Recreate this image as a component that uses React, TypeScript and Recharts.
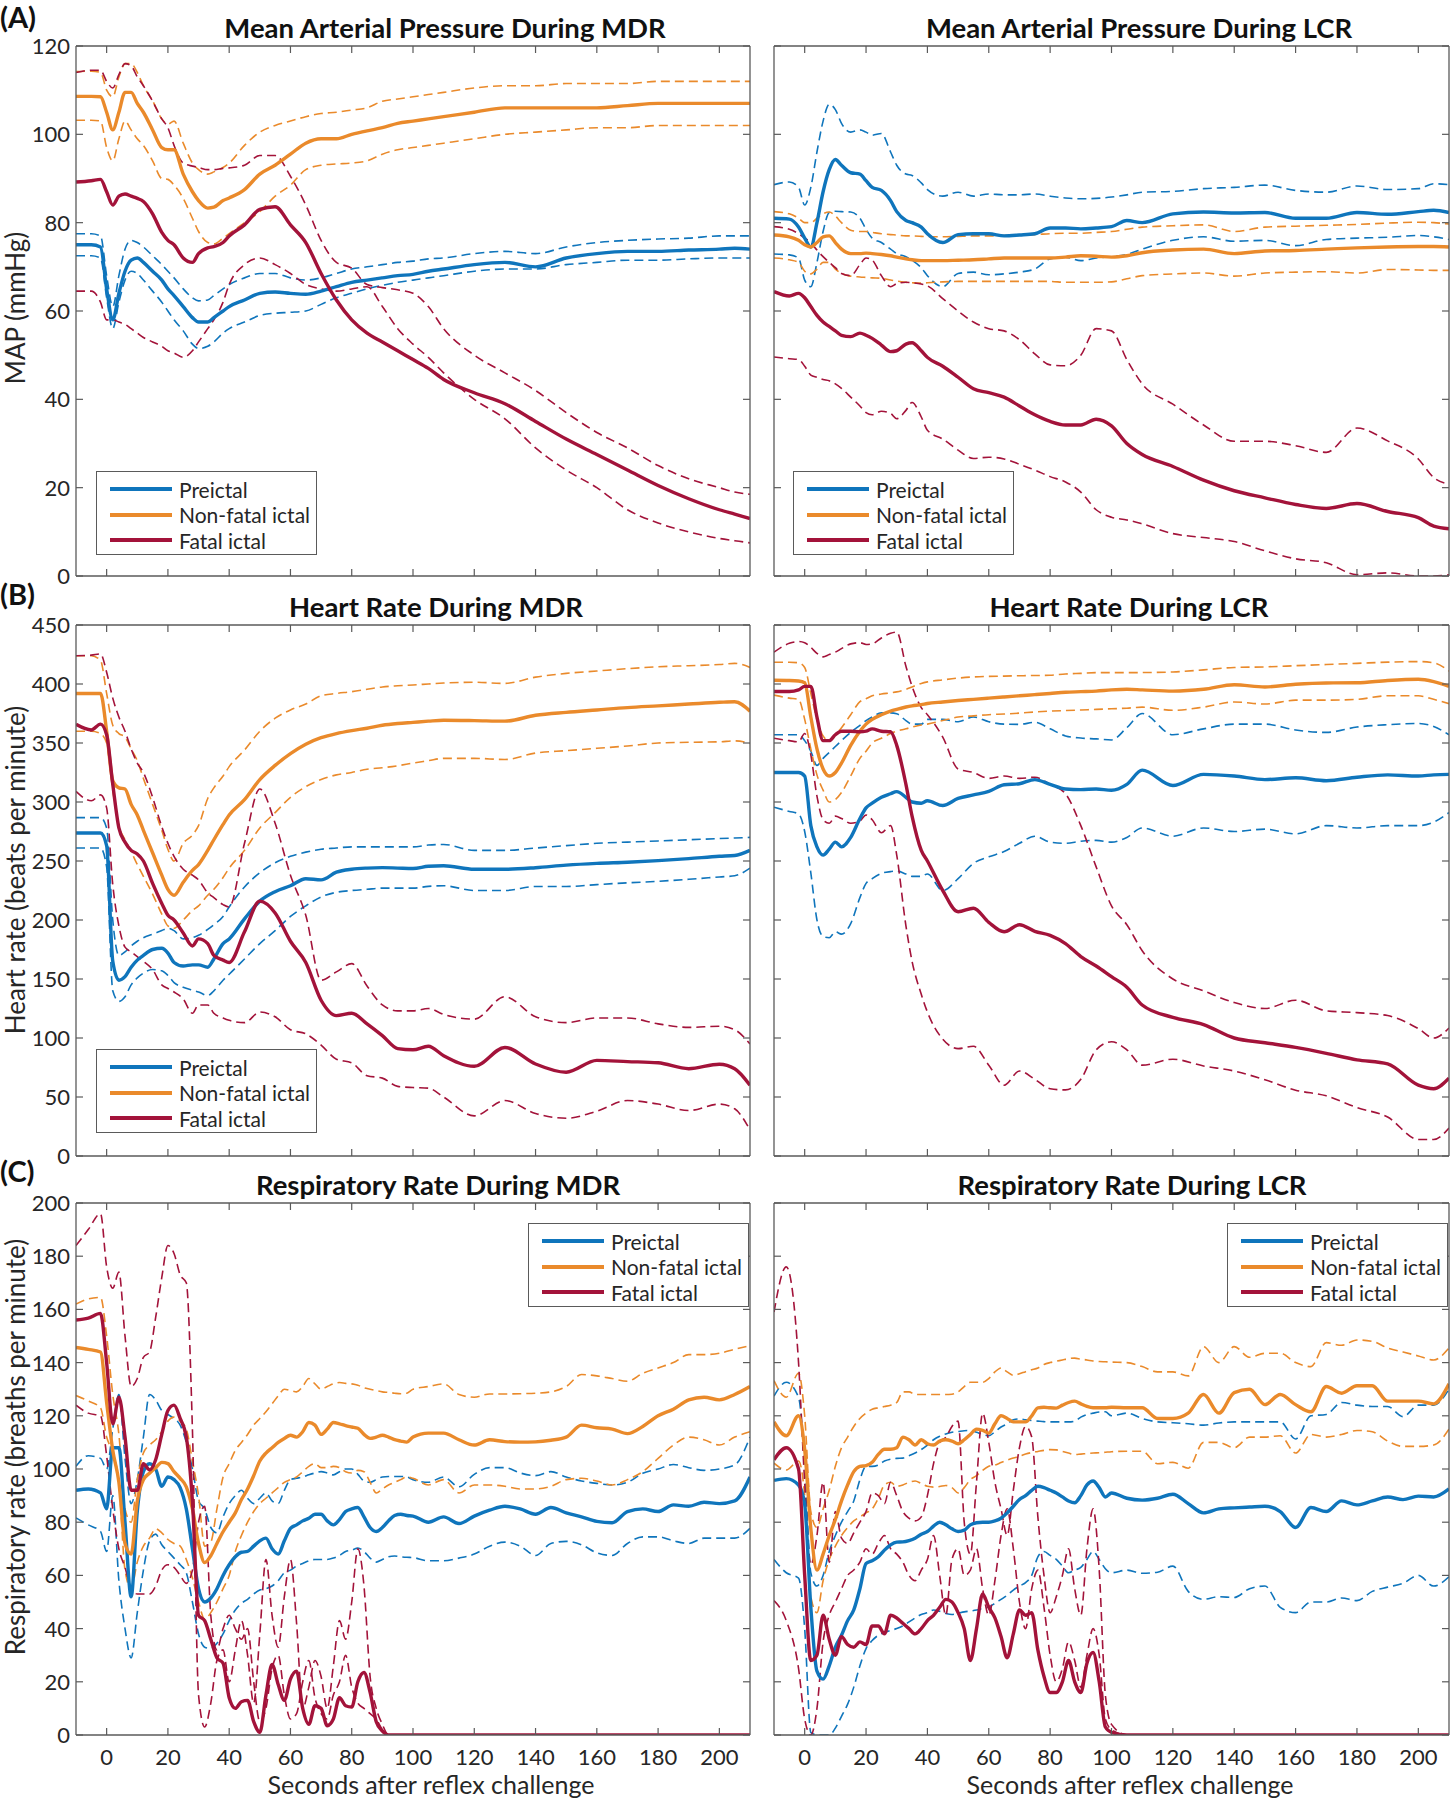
import { LineChart, Line, XAxis, YAxis } from "recharts";

// time bases (seconds after reflex challenge)
const tRows = [-10,-5,-2,0,2,4,6,8,10,12,15,18,20,22,25,28,30,33,35,38,40,45,50,55,60,65,70,75,80,85,90,95,100,105,110,120,130,140,150,160,170,180,190,200,205,210];
const tResp = [-10,-6,-2,0,2,4,6,8,10,12,14,16,18,20,22,24,26,28,30,32,34,36,38,40,42,44,46,48,50,52,54,56,58,60,62,64,66,68,70,72,74,76,78,80,82,84,86,88,90,92,94,96,98,100,105,110,115,120,125,130,135,140,145,150,155,160,165,170,175,180,185,190,195,200,205,210];

const xTicks = [0,20,40,60,80,100,120,140,160,180,200];
const mapTicks = [0,20,40,60,80,100,120];
const hrTicks = [0,50,100,150,200,250,300,350,400,450];
const rrTicks = [0,20,40,60,80,100,120,140,160,180,200];

const groupNames = ["Preictal", "Non-fatal ictal", "Fatal ictal"];
const groupColors = ["#0F75BC", "#EA8A2B", "#A3133A"];

// (A) MAP during MDR
const mapMdrPre = [75,75,74.5,65,58,64,69,71.5,72,71,69,67,65,63.5,61,58.5,57.5,57.5,58.5,60,61,62.5,64,64.3,64,63.8,64.5,65.5,66.5,67,67.5,68,68.3,69,69.5,70.5,71,70,72,73,73.5,73.5,73.8,74,74.2,74];
const mapMdrPreHi = [77.5,77.5,77,68,61,68,74,76,75.5,74.5,72.5,70.5,69,67.5,65,63,62.3,62.5,63.5,65,66,67.5,68.5,68.5,67.5,67,67.5,68.5,69.5,70,70.5,71,71.3,71.8,72,73,73.5,73,74.5,75.5,76,76.3,76.5,77,77,77];
const mapMdrPreLo = [72.5,72.5,72,63,56,62,67,69,68.5,67,64.5,62,60,58,55.5,52.5,51.5,52,53,55,56,57.5,59,59.5,59.7,60,61.5,63,64,65,65.8,66.5,67,67.5,68,69,69.5,69.5,70.5,71,71.5,71.5,71.8,72,72,72];
const mapMdrNon = [108.6,108.6,108.5,105,101,105,109.5,109.5,107,105,101,97,96.5,96.5,91,87,85,83.3,83.5,85,85.6,87.5,91,93,95.5,98,99,99,100,100.8,101.5,102.5,103,103.5,104,105,106,106,106,106,106.5,107,107,107,107,107];
const mapMdrNonHi = [114.2,114.3,114,110,108.5,113,116,116,114,111,107.6,103.5,102.3,103,98,93.5,92,91,91.5,92.5,93.5,97.5,100.5,102,103,104,104.7,105,105.5,106,107.5,108,108.5,109,109.5,110.5,111,111,111.5,111.5,111.5,112,112,112,112,112];
const mapMdrNonLo = [103.2,103.2,103,97,94,99,103,101,99,97.5,94,90,89.8,88.5,85.5,81,78,75.5,75.2,76.5,77.5,80,82.5,86,88.5,92,93,93.3,93.5,94,95.5,96.5,97,97.5,98,99,100,100.5,101,101.5,101.5,102,102,102,102,102];
const mapMdrFatal = [89.2,89.5,89.8,87,84,86,86.5,86,85.5,84.8,82,77.8,76,75,72,71,73,74.3,74.6,75.5,77,79.5,83,83.6,79.5,75.5,68.5,62.5,58,55,53,51,49,47,44.5,41.5,39,35,31,27.5,24,20.5,17.5,15,14,13];
const mapMdrFatalHi = [114,114.5,114.5,112,110.5,113.5,116,115.5,113,111,107.5,103.5,101.5,97.5,93.5,92.8,92.5,92,92,92.3,92.4,93,95.2,95.2,90.5,84,76,71,69.7,66,65.3,64.8,64,61,56,50,46,42,37,32.5,29,25,22,20,19,18.5];
const mapMdrFatalLo = [64.5,64.5,62,58,58,57.5,57,56,55,54,53,52,51,50.5,49.5,51,53,56,58,62,66,70.5,72,70.5,68.5,66,65,64.5,65,65.5,61,56,52.5,49.5,46,40,35.6,29,24,20,15,12,10,8.5,8,7.5];

// (A) MAP during LCR
const mapLcrPre = [81,80.8,79,76.5,74.5,80,87,92,94.3,93,91.3,91,89.5,88,87.3,85,82.5,80.5,80,79,77.5,75.5,77.3,77.5,77.5,77,77.2,77.5,78.8,78.8,78.6,78.8,79.1,80.5,80,82,82.4,82.2,82.3,81,81,82.3,81.9,82.5,82.8,82.3];
const mapLcrPreHi = [88.6,89.2,88,84,88,96,103,106.8,105.6,102.5,100.5,101,100.5,99.8,100.2,96,93,91,90.7,89,87.5,86,86.9,86,86.5,86.3,86.3,86.5,86,85.6,85.4,85.5,85.8,86.3,86.9,87.1,87.7,88,88.5,87.3,86.9,88.3,87.5,87.7,88.8,88.6];
const mapLcrPreLo = [72.9,72.7,72,67,65.5,71,78,82.3,82.6,82.5,82.4,81,78.5,76.5,75.5,74,73,72.3,71.5,69.8,68,65.5,68.5,68.8,68.2,68.4,68.8,69.5,71.8,72.2,71.4,72,72.3,72.8,74,76,76.8,75.8,76,74.8,76.2,76.5,76.7,77.1,76.8,76.2];
const mapLcrNon = [77.2,76.8,76,75,74.5,75.5,76.8,77,75.5,74,73,73,73.1,73,72.8,72.5,72.2,71.8,71.6,71.4,71.4,71.4,71.5,71.6,71.8,72,72,72,72,72.2,72.5,72.4,72.2,72.5,73.2,73.8,74,73,73.6,73.7,74,74.3,74.5,74.6,74.6,74.5];
const mapLcrNonHi = [82.5,82,81,80,80,81,82,82.4,81.5,80,78.3,78,78,77.8,77.5,77.3,77.2,77,77,76.9,76.8,76.8,76.9,77,77,77.1,77.2,77.3,77.5,77.6,77.6,77.8,78,78.5,79,79.3,79.5,78,79,79.2,79.4,79.6,79.9,80.1,80,79.7];
const mapLcrNonLo = [72,71.6,71,69,68.4,69.5,71,71,69.5,68.5,67.9,67.7,67.6,67.5,67.4,67,66.8,66.5,66.4,66.3,66.4,66.6,66.7,66.7,66.7,66.7,66.7,66.7,66.7,66.5,66.5,66.5,66.6,67.3,68,68.4,68.6,67.9,68.6,68.8,68.9,68.6,69.4,69.3,69.2,69.2];
const mapLcrFatal = [64.4,63.4,64,63,61,59,57.5,56.5,55.5,54.5,54.2,55,54.5,53.8,52.3,50.8,51,52.5,52.8,51,49.5,47.5,45,42.4,41.5,40.5,38.5,36.5,35,34.2,34.2,35.5,34,30,27.5,24.8,21.7,19.3,17.7,16.2,15.3,16.4,14.6,13.2,11.3,10.7];
const mapLcrFatalHi = [79.1,78.5,77.5,76.5,75.5,73.8,72.3,71,69.8,68.5,68,70.5,72,71.5,68,65.5,66.2,66.5,66.4,66.1,65.7,62.8,60,57.5,56,55.5,53.5,50.3,47.8,47.6,50,56,55.5,49,43.5,38.9,34.2,30.5,30.5,29.5,28,33.5,30.6,26.5,22.3,20.8];
const mapLcrFatalLo = [49.6,49.2,49,47.5,45.5,45,44.5,44.2,43.5,42.5,40.5,38.5,37,36.5,37.3,36.8,35.6,37.5,39.3,36,33,31,28.5,26.6,26.9,26.5,25.3,24,22.5,21.3,19,15,13.3,12.7,11.8,9.6,8.7,7.8,5.7,3.9,3,0.3,0.7,0,0,0.3];

// (B) heart rate during MDR
const hrMdrPre = [273.7,273.7,273.7,263,165,149,152,160,166,170,175,176,172,164,161,162,162,160,167,180,184,201,216,224,229,235,234,240.5,243,244,244.4,244,243.6,245.5,246,243,243,244.3,246.5,248,249,250.3,252,254,254.7,259];
const hrMdrPreHi = [286.8,286.8,286.8,278,200,170,173,178,182,185,188,191,193,191,184,185,187,192,196,203,211,228,240,248.5,254,257.5,260,261,262,262,262,262,262,263.5,264,259,259,261,263,265,266,267,268,269,269.5,270];
const hrMdrPreLo = [261,261,261,245,140,131,135,145,151,155,158,157,153,147,143,140.5,139,136,140,149,154,167,180,191,203,212,219.5,223.5,225,226,227,227,227,228.5,229,225,225,228.4,228.4,230,231.5,232.8,234.5,236.5,237.5,244];
const hrMdrNon = [392,392,392,360,318,312,311,298,289,276,257,238,226,221,232,242,247,259,268,281,289,302,319,331,341,349,354.5,358,360.5,362.5,365,366.5,367.5,368.5,369.3,369,368.5,373.5,376,378,380,381.5,383,384.5,385,377];
const hrMdrNonHi = [424,424,420,392,365,358,355,345,335,320,298,276,260,250,265,272,280,303,312,322,330,344,360,371,378,383,390,392,393.5,395.5,397.5,398.5,399.2,400,400.8,401.5,400.5,405.8,409,411,413,414.6,415.5,416.5,417.5,414];
const hrMdrNonLo = [360,360,358,350,310,280,268,258,247,237,222,205,195,193,200,208,212,221,226,236,244,259,278,291,304,313,319,323,325,327.8,329,330.7,333,335,337,337,336,341.5,343.5,345.5,347.5,350,350.6,351,351.8,349.7];
const hrMdrFatal = [365.8,361,366,357,315,278,266,259,256,250,231,214,204,200,189,178,184,180,170,166,164,190,216,206,182,164,132,119,121,112,102,91,90,93,85,76,92,78,71,81,80,79,74,77.8,74,60];
const hrMdrFatalHi = [424,424.5,425.5,410,388,372,360,345,333,325,304,279,265,254,243,238,234,223,219,213,211,265,311,282,238,204,149,156,163,144,128,123,123,125,120,116,135,118,113,117,117,112,109,110,107,95];
const hrMdrFatalLo = [309,301,306,295,230,195,177,173,169,165,158,145,142,139,133,121,128,128,121,117,115,113,122,118,107,103.5,94,82,79,68,66,59,58,57.5,50,34,47,36,32,38,47,44,38.5,44,40,22];

// (B) heart rate during LCR
const hrLcrPre = [325,325,325,322,280,262,255,260,266,262,270,286,295,299,304,307,308.8,304,300,299,301,297,303,306,309,314.6,315.5,319,315,311,310.5,311,310,315,327,314,323.4,322,319,320.5,318,321,323,322,323,323.4];
const hrLcrPreHi = [357,357,357,352,343,331,337,342,347,352,359,365,369,372,375.5,375.5,374.8,369,366,366,370,370,368,372,368,366,365.8,367.5,362,356,354.2,353.5,352.6,363,375,357,362,366,366,361,359,363.5,365.5,366.5,364,357];
const hrLcrPreLo = [295.6,292,290,275,240,200,186,185,190,188,197,219,231,235,239.5,241,241.5,239,237,237,239,225,235,248,253.5,258,265,271,266,265,266.7,267.5,266,270,278,271,278,275,277,273,280,278,280,280,283,291];
const hrLcrNon = [403.2,403,402.5,401,372,345,328,322,325,333,348,360,366,370,374,377,378.5,380.5,381.5,382.5,383.5,384.8,386,387,388,389,390,391,392,393,393.5,394,395,395.5,395,394,395.5,399.4,397.5,399.8,400.9,401,403,404,402,398];
const hrLcrNonHi = [418.4,418.4,418,414,392,370,356,352,357,363,374,385,387.5,390,391.5,392.5,393.3,395.5,397.5,400.5,401.8,403.5,405,406,406.5,406.7,407,407.2,407.4,408.5,409,409.6,409.6,409.6,409.7,410.2,412,414,414.5,415.5,416.5,417.5,418.5,419,418,411];
const hrLcrNonLo = [390.6,388,387,370,345,323,310,300,302,308,322,337,343,350,354,358,360,362,363.5,365.3,366,369,372,373,374,374.6,375.3,376.3,377,377.5,378,378.5,379,379.5,380.4,377.7,380.4,384.8,383,386.3,386.3,387,390,390,387,383.3];
const hrLcrFatal = [393.6,393.6,395,398,398,372,352,352,357,360,360,359.5,360,362,360,359.5,348,315,288,259,250,225,207,210,198,190,196,190.4,187,180,169,161,152,143,128,117.5,111.4,100,96,92,87,81.5,78,60,57,66];
const hrLcrFatalHi = [427,434.5,436,435,431,426,423,425,427,430,434,435,433.5,434,439,443,444,415,398,380,374,355,328,325,320,322,320,321,315,307,280,245,212,196,174,150,140,130,125,132,123,121.5,119,108,100,108.5];
const hrLcrFatalLo = [354,352,351,358,340,305,285,282,288,286,282,284,289,285,274,280,255,195,165,137,122,99,91,93,77,60,72,65,57,56,65,90,96.8,90,77,82,76.3,72,64.6,55.8,51,41,33,14,14,23.7];

// (C) respiratory rate during MDR
const rrMdrPre = [92,92.5,91,85,108,108,80,52,84,99,102,100,93.5,97,96,93,85,70,55,50,51.5,55,60,64,67,68.7,69,71,73,74,70,68,73,77.7,79,80.5,81.5,83,83,80.5,79,81,84,85,85.5,82,78,76.5,78,80.5,82.5,83,82.5,82.3,80,82,79.5,82.3,84.5,86,85,83,85.5,83.5,82,80.3,79.8,84,85,84,86.5,86,87.5,87,88,97];
const rrMdrPreHi = [101,105,104,100,115,128,104,87,96,112,128,126,122,120.5,119,116.5,110,100,88,85,78,76,82,87,90,92,89,87,89,91,88,87,92,96,96.5,97,97.8,98.5,99,98.5,97.8,99,100,100,98,95.5,95,96,97,97.2,97.2,97.2,97,96,95,97,93.3,98,100.5,100.5,98.5,97.5,99,97,95.5,94.6,94,95,98.4,100,101.7,100.5,99.5,100,101.5,112];
const rrMdrPreLo = [81.6,79,76.5,69,90,58,40,29,46,62,73,75.5,71.5,69,66.5,64,61,50,38,33,32.5,34.5,38,43,47,49.5,51,53,54.5,55,56,58,61,62,63.5,64.5,65.5,66,66,66,66.5,67.5,69,69.5,70.3,69,66.5,65,66,67,67.3,67,66.8,66.7,65.5,65.5,66.5,68,71,72.5,71,67.5,72,72.8,71.5,68.5,67.5,72,74.5,74.5,73,72,74,74,74,77.7];
const rrMdrNon = [145.7,145,144,125,107,95,72,68,88,96,98.4,100.5,102.5,102,99,96.5,93.3,85,72,64.8,67.4,72,76.4,80,83.5,88.5,92.5,97.5,103,106,108,110,111.5,112.7,112,114,117.5,116.5,113,115,117.5,117,116.3,115.8,115.3,113,111.5,112,112.7,112,111,110.5,110.1,112,113.5,113.5,111,109,111,110.3,110.1,110.2,110.8,112,116.5,115.5,115,113.3,116,120,122.5,126,127,126,128,131];
const rrMdrNonHi = [162,163.9,164.5,150,128,113,85,80,96,106,109,111,114,118,119.5,118,115,103,90,71,72.5,85,97,102,107,110,113,116.5,119,121.5,124.5,127.5,130,129.5,129,131,134,132,130,131,132,132.5,132.2,132,131.5,130.5,130,129.5,129,128.8,128.5,128.3,128.5,130,131,132,128,127,128.2,128.2,128.3,128.5,129,131,135.5,135,134,133,136,138,140,143,143,143.5,145,146.4];
const rrMdrNonLo = [127.6,125.6,123,112,106,95,62,55,65,71,74,77.5,76,73.5,72,71,66,59,50,43.5,46,50,55,60,69,75,80,84,87,89,91,93,95,96,97,99,101,102,100.5,100.5,101,100.5,99,98.5,99.5,99,95,91,92.5,94,95,96,97,96.5,94,96,91,94,94,93.5,92.5,92.5,93.5,96,96.5,95.5,94,96,99,104,109,112,111,109,112,114];
const rrMdrFatal = [156,156.7,158.5,140,117,127,112,92,92,102,99.7,103.5,113,122,124,119,112,88,45,43,36,29,27,14,10,12.5,13,5,1,15,26.5,19,13,21,24,10,4,11,10,3.5,6,14,11,10.5,20,23.5,16,5,1.5,0,0,0,0,0,0,0,0,0,0,0,0,0,0,0,0,0,0,0,0,0,0,0,0,0,0,0];
const rrMdrFatalHi = [184,190,196,176,168,174,150,131,134,142,144,157,172,184,181,173,170,115,15,3,12,28,32,20,32,43,30,12,38,66,45,33,52,66,42,10,18,28,22,10,26,43,36,50,70,56,22,10,4,0,0,0,0,0,0,0,0,0,0,0,0,0,0,0,0,0,0,0,0,0,0,0,0,0,0,0];
const rrMdrFatalLo = [124,121,120,105,85,70,63,55,53,53,53,56,62,64,63,60,57,62,80,86,45,32,40,45,40,36,40,20,5,10,25,30,15,6,8,20,28,14,8,6,15,20,30,18,12,10,8,6,2,0,0,0,0,0,0,0,0,0,0,0,0,0,0,0,0,0,0,0,0,0,0,0,0,0,0,0];

// (C) respiratory rate during LCR
const rrLcrPre = [95.7,96.4,94,86.7,48,24,21,26,33,37.5,43,47,55,64.5,65.5,67,69.5,71.5,72.5,72.6,73.1,74,75.5,76.5,78.5,80,79,77.5,76.5,77,79,79.8,80,80,80.5,81.5,83.5,86,88.5,90,92,93.5,93,92,91,89.5,88,87.3,90,94,95.5,93,89.5,91,89,88.3,89,90.5,87,83.5,85,85.4,85.7,86,84,78,85.5,84,88,86.5,88,89.5,88.5,89.8,89.5,92.5];
const rrLcrPreHi = [127.4,132.6,127,102,61,56,60,69,75,80,84,88,96,101,101,101.5,103,103.7,104,104.1,105,106,107.3,109,111,112.3,113.2,113.8,114.1,114.4,114.5,113.8,113,112.5,114,115.8,117,118.5,118.8,118.5,118.2,118,117.8,117.7,117.7,117.7,117.7,118,119.5,120.5,121,121.4,121.5,120,121,119,117.7,117.4,117,116.5,117.3,117.7,117.7,117.7,117.7,111.3,120,120.5,125,124,123.5,123.5,119.7,124,124,130];
const rrLcrPreLo = [66,61,59,40,1,0,0,0,2.6,7,11.6,18,26,32.5,35.5,37.5,38.5,39.3,40,41,42.5,44,45.3,46,47,46.5,45.7,45.3,45.8,46.3,46.6,47,47.6,48.2,49.5,51,52.5,54.5,56,57.3,60,67,69,67.5,66,63.5,61,62,63,66,69,66,62.5,61,62,60.8,61.2,63.5,54,51,52,51.7,55,56,48,46,50,50,51.5,50.5,54,55.6,57,60,56,59.5];
const rrLcrNon = [117.7,112.5,120,107.4,77.6,62,68,75,81,88,94,99,101,101.3,102.5,105.5,107.4,107.4,108,112,111,109,111,109.5,109,110.5,111,110.5,109.5,111,113,115,114.5,113.5,117,120,119,117.7,117.7,117.7,120,123,123.2,123,122.9,124,125,125.5,124.5,123.5,123,123,123,123.2,123,123,119,119,121,128,121,128.7,130,124.2,128,124.2,121.5,131,128.5,131.3,131.3,125.5,125.5,125.5,124.5,132];
const rrLcrNonHi = [133.2,127,136,120,84,78,85,92,101,108,112,116,119,121,122.5,123,123.5,124,125,129,129,128,128,128,128,128,128,128.1,129,131,132.6,132.6,132.6,134,136.5,138,136.5,135.2,135.8,136.6,137.3,138,139.3,140,140.5,141,141.5,141.7,141.3,141,140.6,140.4,140.3,140.2,140,138.5,136.5,136.5,135,146,140,146,142,143.5,143.5,140,138.5,147.5,146.5,148.5,148,145.5,144,142.5,141,145.5];
const rrLcrNonLo = [102.2,99.6,103,90,52,46,58,66,71,75,78,80.5,82,83.5,85,89,94,95,93.5,94,95,95.5,94.5,93.5,93.2,93.4,93.8,93,91,93,96,97.5,99.5,101,101.5,102.4,103.3,104.1,104.8,105.6,106.2,106.6,107,107.3,107.2,106.6,106,105.4,105.6,105.8,106,106.1,106.3,106.5,106.7,106.7,102,102.5,100.3,110,110,108,112,112,112.5,106,113,112,113,114.5,114,110.5,108.5,108.5,109,115];
const rrLcrFatal = [103.5,108,100,60,28,30,45,36,30,37,34,33,35,34,41,41,38,45,44,42,40,38,40,43,45,48,51,50,46,40,28,40,53,48,44,37,29,38,47,45,46,32,22,16,16,20,28,20,16,27,31,20,3,1,0,0,0,0,0,0,0,0,0,0,0,0,0,0,0,0,0,0,0,0,0,0];
const rrLcrFatalHi = [159,176,140,95,64,75,95,65,84,74,72,76,80,84,91,90,87,95,90,84,81.5,80.5,82,90,102,110,112,116,118,80,68,95,121,110,95,85,75,92,108,116,112,82,60,46,52,60,70,55,45,70,85,62,15,4,0,0,0,0,0,0,0,0,0,0,0,0,0,0,0,0,0,0,0,0,0,0];
const rrLcrFatalLo = [50.5,43,25,6,0,10,35,45,50,55,60,62,65,70,68,72,75,70,68,65,60,58,62,66,75,60,45,66,70,60,62,70,55,45,58,75,85,70,50,40,55,62,48,30,20,25,35,28,18,30,40,30,6,2,0,0,0,0,0,0,0,0,0,0,0,0,0,0,0,0,0,0,0,0,0,0];

const AXIS = "#5a5a5a";
const TEXT = "#262626";
const FONT = "Lato, 'Open Sans', sans-serif";

type Band = { mean: number[]; hi: number[]; lo: number[] };

function buildRows(time: number[], bands: Band[]) {
  return time.map((t, i) => {
    const row: Record<string, number> = { t };
    bands.forEach((b, k) => {
      row[`m${k}`] = b.mean[i];
      row[`h${k}`] = b.hi[i];
      row[`l${k}`] = b.lo[i];
    });
    return row;
  });
}

function Tick(props: any) {
  const { x, y, payload, side, showText } = props;
  const len = 7;
  const txt = { fontSize: 22, fill: TEXT, fontFamily: FONT };
  if (side === "bottom") {
    return (
      <g>
        <line x1={x} y1={y} x2={x} y2={y - len} stroke={AXIS} strokeWidth={1.2} />
        {showText && (
          <text x={x} y={y + 30} textAnchor="middle" {...txt}>
            {payload.value}
          </text>
        )}
      </g>
    );
  }
  if (side === "top") {
    return <line x1={x} y1={y} x2={x} y2={y + len} stroke={AXIS} strokeWidth={1.2} />;
  }
  if (side === "left") {
    return (
      <g>
        <line x1={x} y1={y} x2={x + len} y2={y} stroke={AXIS} strokeWidth={1.2} />
        {showText && (
          <text x={x - 6} y={y} dy="0.36em" textAnchor="end" {...txt}>
            {payload.value}
          </text>
        )}
      </g>
    );
  }
  return <line x1={x} y1={y} x2={x - len} y2={y} stroke={AXIS} strokeWidth={1.2} />;
}

type PanelProps = {
  x: number;
  y: number;
  plotH: number;
  left: boolean;
  bottomLabels: boolean;
  data: Record<string, number>[];
  yMax: number;
  yTicks: number[];
};

// x, y: top-left corner of the plot area
function Panel({ x, y, plotH, left, bottomLabels, data, yMax, yTicks }: PanelProps) {
  const ml = left ? 15 : 9;
  const yw = left ? 61 : 1;
  const plotW = left ? 674 : 675;
  const mr = left ? 10 : 0;
  const mt = 14;
  const mb = bottomLabels ? 44 : 12;
  const axisLine = { stroke: AXIS, strokeWidth: 1.3 };
  return (
    <div style={{ position: "absolute", left: x - ml - yw, top: y - mt - 1 }}>
      <LineChart
        width={ml + yw + plotW + 1 + mr}
        height={mt + 1 + plotH + 1 + mb}
        data={data}
        margin={{ top: mt, right: mr, bottom: mb, left: ml }}
      >
        <XAxis xAxisId="b" dataKey="t" type="number" domain={[-10, 210]} ticks={xTicks} interval={0}
          allowDataOverflow height={1} tickSize={0} tickMargin={0} tickLine={false} axisLine={axisLine}
          tick={<Tick side="bottom" showText={bottomLabels} />} />
        <XAxis xAxisId="t" orientation="top" dataKey="t" type="number" domain={[-10, 210]} ticks={xTicks}
          interval={0} allowDataOverflow height={1} tickSize={0} tickMargin={0} tickLine={false}
          axisLine={axisLine} tick={<Tick side="top" />} />
        <YAxis yAxisId="l" type="number" domain={[0, yMax]} ticks={yTicks} interval={0} allowDataOverflow
          width={yw} tickSize={0} tickMargin={0} tickLine={false} axisLine={axisLine}
          tick={<Tick side="left" showText={left} />} />
        <YAxis yAxisId="r" orientation="right" type="number" domain={[0, yMax]} ticks={yTicks} interval={0}
          allowDataOverflow width={1} tickSize={0} tickMargin={0} tickLine={false} axisLine={axisLine}
          tick={<Tick side="right" />} />
        {[0, 1, 2].flatMap((k) =>
          ["h", "l"].map((p) => (
            <Line key={`${p}${k}`} xAxisId="b" yAxisId="l" dataKey={`${p}${k}`} type="monotone"
              stroke={groupColors[k]} strokeWidth={1.6} strokeDasharray="9 5" dot={false}
              isAnimationActive={false} />
          ))
        )}
        {[0, 1, 2].map((k) => (
          <Line key={`m${k}`} xAxisId="b" yAxisId="l" dataKey={`m${k}`} type="monotone"
            stroke={groupColors[k]} strokeWidth={3.4} dot={false} isAnimationActive={false} />
        ))}
      </LineChart>
    </div>
  );
}

function LegendBox({ x, y }: { x: number; y: number }) {
  return (
    <div
      style={{
        position: "absolute", left: x, top: y, width: 221, height: 84, boxSizing: "border-box",
        border: `1.3px solid ${AXIS}`, background: "#fff",
      }}
    >
      {groupNames.map((n, i) => (
        <div key={n} style={{ position: "absolute", left: 13, top: 6 + i * 25.5, height: 22, display: "flex", alignItems: "center" }}>
          <div style={{ width: 62, height: 4, background: groupColors[i] }} />
          <span style={{ marginLeft: 7, fontSize: 21, color: TEXT, fontFamily: FONT, whiteSpace: "nowrap" }}>{n}</span>
        </div>
      ))}
    </div>
  );
}

function Label({ x, y, text, size, bold, center }: { x: number; y: number; text: string; size: number; bold?: boolean; center?: boolean }) {
  return (
    <div
      style={{
        position: "absolute", left: x, top: y, transform: center ? "translate(-50%, -50%)" : undefined,
        fontSize: size, fontWeight: bold ? 700 : 400, color: bold ? "#111" : TEXT, fontFamily: FONT,
        whiteSpace: "nowrap", lineHeight: 1,
      }}
    >
      {text}
    </div>
  );
}

function YTitle({ y, text }: { y: number; text: string }) {
  return (
    <div
      style={{
        position: "absolute", left: 15, top: y, transform: "translate(-50%, -50%) rotate(-90deg)",
        fontSize: 26, color: TEXT, fontFamily: FONT, whiteSpace: "nowrap", lineHeight: 1,
      }}
    >
      {text}
    </div>
  );
}

export default function App() {
  const mapMdr = buildRows(tRows, [
    { mean: mapMdrPre, hi: mapMdrPreHi, lo: mapMdrPreLo },
    { mean: mapMdrNon, hi: mapMdrNonHi, lo: mapMdrNonLo },
    { mean: mapMdrFatal, hi: mapMdrFatalHi, lo: mapMdrFatalLo },
  ]);
  const mapLcr = buildRows(tRows, [
    { mean: mapLcrPre, hi: mapLcrPreHi, lo: mapLcrPreLo },
    { mean: mapLcrNon, hi: mapLcrNonHi, lo: mapLcrNonLo },
    { mean: mapLcrFatal, hi: mapLcrFatalHi, lo: mapLcrFatalLo },
  ]);
  const hrMdr = buildRows(tRows, [
    { mean: hrMdrPre, hi: hrMdrPreHi, lo: hrMdrPreLo },
    { mean: hrMdrNon, hi: hrMdrNonHi, lo: hrMdrNonLo },
    { mean: hrMdrFatal, hi: hrMdrFatalHi, lo: hrMdrFatalLo },
  ]);
  const hrLcr = buildRows(tRows, [
    { mean: hrLcrPre, hi: hrLcrPreHi, lo: hrLcrPreLo },
    { mean: hrLcrNon, hi: hrLcrNonHi, lo: hrLcrNonLo },
    { mean: hrLcrFatal, hi: hrLcrFatalHi, lo: hrLcrFatalLo },
  ]);
  const rrMdr = buildRows(tResp, [
    { mean: rrMdrPre, hi: rrMdrPreHi, lo: rrMdrPreLo },
    { mean: rrMdrNon, hi: rrMdrNonHi, lo: rrMdrNonLo },
    { mean: rrMdrFatal, hi: rrMdrFatalHi, lo: rrMdrFatalLo },
  ]);
  const rrLcr = buildRows(tResp, [
    { mean: rrLcrPre, hi: rrLcrPreHi, lo: rrLcrPreLo },
    { mean: rrLcrNon, hi: rrLcrNonHi, lo: rrLcrNonLo },
    { mean: rrLcrFatal, hi: rrLcrFatalHi, lo: rrLcrFatalLo },
  ]);

  return (
    <div style={{ position: "absolute", left: 0, top: 0, width: 1450, height: 1800, background: "#fff", overflow: "hidden" }}>
      <Panel x={76} y={46} plotH={530} left bottomLabels={false} data={mapMdr} yMax={120} yTicks={mapTicks} />
      <Panel x={774} y={46} plotH={530} left={false} bottomLabels={false} data={mapLcr} yMax={120} yTicks={mapTicks} />
      <Panel x={76} y={625} plotH={531} left bottomLabels={false} data={hrMdr} yMax={450} yTicks={hrTicks} />
      <Panel x={774} y={625} plotH={531} left={false} bottomLabels={false} data={hrLcr} yMax={450} yTicks={hrTicks} />
      <Panel x={76} y={1203} plotH={532} left bottomLabels data={rrMdr} yMax={200} yTicks={rrTicks} />
      <Panel x={774} y={1203} plotH={532} left={false} bottomLabels data={rrLcr} yMax={200} yTicks={rrTicks} />

      <LegendBox x={96} y={471} />
      <LegendBox x={793} y={471} />
      <LegendBox x={96} y={1049} />
      <LegendBox x={528} y={1223} />
      <LegendBox x={1227} y={1223} />

      <Label x={0} y={2} text="(A)" size={29} bold />
      <Label x={0} y={579} text="(B)" size={29} bold />
      <Label x={0} y={1156} text="(C)" size={29} bold />

      <Label x={445} y={28} text="Mean Arterial Pressure During MDR" size={27.5} bold center />
      <Label x={1139} y={28} text="Mean Arterial Pressure During LCR" size={27.5} bold center />
      <Label x={436} y={607} text="Heart Rate During MDR" size={27.5} bold center />
      <Label x={1129} y={607} text="Heart Rate During LCR" size={27.5} bold center />
      <Label x={438} y={1185} text="Respiratory Rate During MDR" size={27.5} bold center />
      <Label x={1132} y={1185} text="Respiratory Rate During LCR" size={27.5} bold center />

      <YTitle y={308} text="MAP (mmHg)" />
      <YTitle y={870} text="Heart rate (beats per minute)" />
      <YTitle y={1447} text="Respiratory rate (breaths per minute)" />

      <Label x={431} y={1784} text="Seconds after reflex challenge" size={25} center />
      <Label x={1130} y={1784} text="Seconds after reflex challenge" size={25} center />
    </div>
  );
}
